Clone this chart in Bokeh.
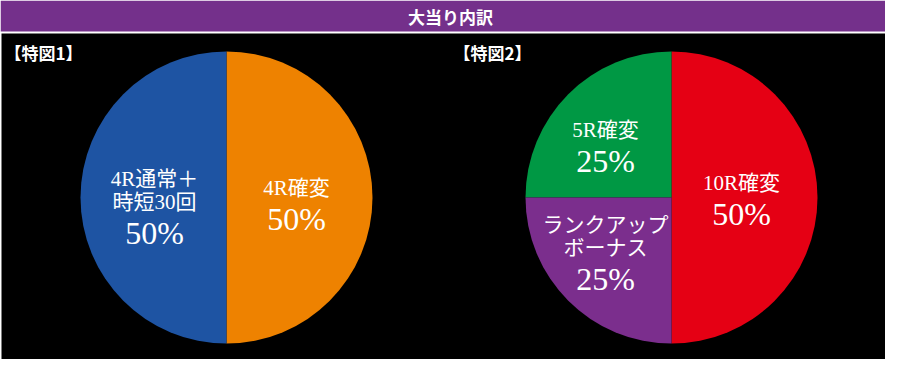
import numpy as np
from bokeh.plotting import figure
from bokeh.models import Range1d
from bokeh.core.properties import value
from bokeh.embed import file_html
from bokeh.resources import INLINE

# ---- data ----
title = "大当り内訳"
chart_names = ["【特図1】", "【特図2】"]

pie1_labels = [["4R確変"], ["4R通常＋", "時短30回"]]
pie1_values = [50, 50]
pie1_colors = ["#EE8200", "#1E54A3"]

pie2_labels = [["10R確変"], ["5R確変"], ["ランクアップ", "ボーナス"]]
pie2_values = [50, 25, 25]
pie2_colors = ["#E50014", "#009844", "#7B2E8D"]

# ---- layout (reference pixel space, y measured downward) ----
H = 359
PW, PH = 885, H
R = 146
centers = [(226, 197), (671, 197)]
offsets1 = [(70, -10), (-72, -19)]
offsets2 = [(70, -15), (-66, -68), (-66, 27)]
LINE_GAP, PCT_GAP = 23, 31

FONT = value("'Liberation Serif', 'Noto Sans CJK JP', serif")
HFONT = value("'Noto Sans CJK JP', sans-serif")

p = figure(width=PW, height=PH, x_range=Range1d(0, PW), y_range=Range1d(0, H),
           output_backend="svg", toolbar_location=None, min_border=0)
p.axis.visible = False
p.grid.visible = False
p.outline_line_color = None
p.background_fill_color = "white"
p.border_fill_color = "white"

def Y(y):
    return H - y

# title bar and black panel
p.quad(left=[0], right=[901], top=[Y(0)], bottom=[Y(31)], fill_color="#74308B", line_color=None)
p.quad(left=[1], right=[899], top=[Y(33)], bottom=[Y(H)], fill_color="black", line_color=None)
p.text(x=[450], y=[Y(16)], text=[title], text_color="white", text_font=HFONT,
       text_font_size="17px", text_font_style="bold", text_align="center", text_baseline="middle")

name_pos = [(4, 52), (453, 52)]
for (nx, ny), nm in zip(name_pos, chart_names):
    p.text(x=[nx], y=[Y(ny)], text=[nm], text_color="white", text_font=HFONT,
           text_font_size="17px", text_font_style="bold", text_align="left", text_baseline="middle")

def draw_pie(center, labels, values, colors, offsets):
    cx, cy = center
    vals = np.array(values, dtype=float)
    frac = vals / vals.sum()
    ends = np.cumsum(frac) * 2 * np.pi - np.pi / 2
    starts = ends - frac * 2 * np.pi
    p.wedge(x=cx, y=Y(cy), radius=R, start_angle=list(starts), end_angle=list(ends),
            fill_color=colors, line_color=None)
    for lab, v, (dx, dy) in zip(labels, values, offsets):
        x = cx + dx
        y0 = cy + dy
        for i, line in enumerate(lab):
            p.text(x=[x], y=[Y(y0 + i * LINE_GAP)], text=[line], text_color="white", text_font=FONT,
                   text_font_size="21px", text_align="center", text_baseline="middle")
        p.text(x=[x], y=[Y(y0 + (len(lab) - 1) * LINE_GAP + PCT_GAP)], text=[f"{v}%"],
               text_color="white", text_font=FONT, text_font_size="32px",
               text_align="center", text_baseline="middle")

draw_pie(centers[0], pie1_labels, pie1_values, pie1_colors, offsets1)
draw_pie(centers[1], pie2_labels, pie2_values, pie2_colors, offsets2)

open("out.html", "w").write(file_html(p, INLINE))
